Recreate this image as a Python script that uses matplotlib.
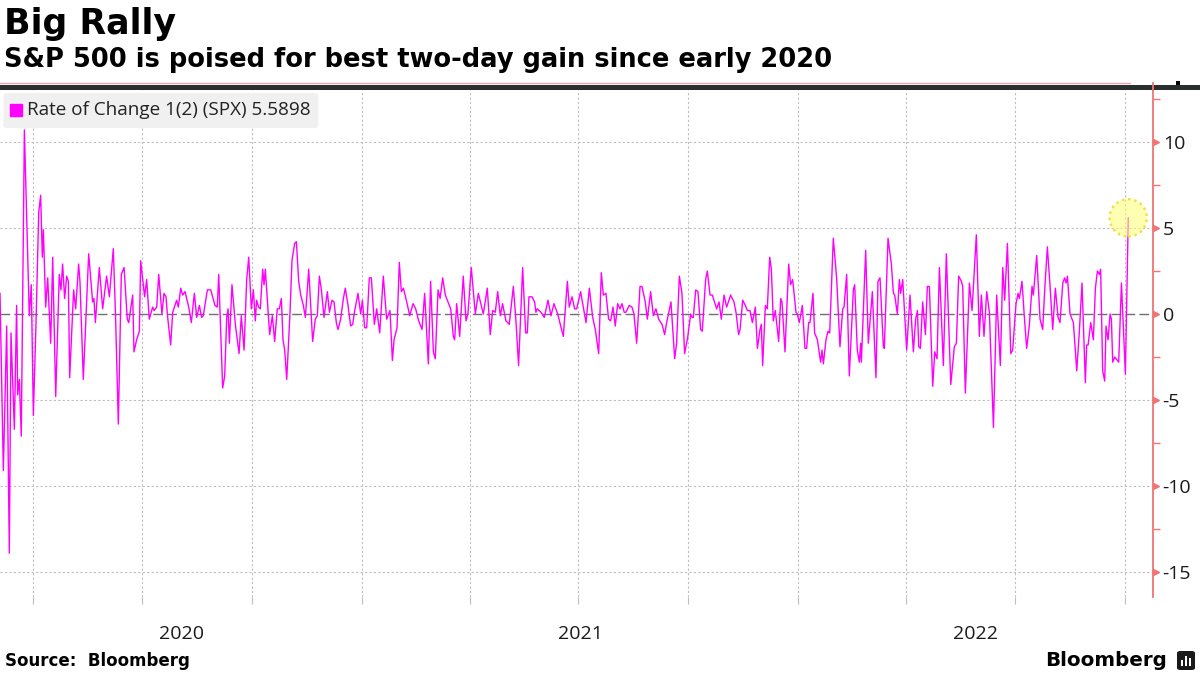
# Big Rally - S&P 500 two-day rate of change (Bloomberg style)
import numpy as np
import pandas as pd
import matplotlib
matplotlib.use("Agg")
import matplotlib.pyplot as plt
import matplotlib.transforms as mtransforms
from matplotlib.patches import Rectangle, FancyBboxPatch
from matplotlib.lines import Line2D
from matplotlib.ticker import MultipleLocator, FuncFormatter

# 1. Data: days after 2020-03-04 and 2-day rate of change (%)
start = pd.Timestamp("2020-03-04")
x_end_days = 964.7

days = [
    0.0, 2.8, 5.6, 7.8, 9.2, 12.0, 13.9, 14.8, 16.2, 17.8,
    20.4, 24.5, 26.2, 27.9, 30.1, 32.4, 34.0, 35.4, 36.3, 38.2,
    39.9, 42.4, 44.1, 46.6, 49.6, 51.0, 52.4, 54.1, 55.8, 57.2,
    58.3, 61.6, 63.3, 65.8, 66.9, 69.7, 74.2, 77.5, 78.6, 79.8,
    83.1, 85.9, 89.2, 91.5, 94.8, 96.8, 99.0, 101.5, 103.8, 106.5,
    107.7, 111.0, 112.1, 114.3, 116.6, 117.7, 121.0, 122.7, 124.9, 127.7,
    128.9, 131.1, 132.8, 135.5, 137.2, 138.9, 140.0, 142.8, 144.5, 147.8,
    149.2, 151.2, 152.8, 154.8, 157.9, 160.1, 162.6, 164.6, 166.8, 168.7,
    170.1, 173.5, 176.3, 179.9, 181.8, 183.0, 186.3, 188.0, 189.7, 190.8,
    191.9, 194.1,
    196.9, 200.0, 201.9, 204.2, 206.4, 208.1, 210.3, 212.0, 213.6, 214.7,
    216.4, 217.8, 219.8, 220.9, 222.0, 225.6, 227.9, 229.8, 232.0, 233.7,
    235.4, 236.8, 238.2, 239.9, 242.6, 244.3, 246.5, 248.0, 249.9, 251.6,
    253.8, 255.5, 258.3, 261.6, 263.8, 265.5, 267.2, 268.9, 271.1, 273.9,
    275.6, 277.8, 279.5, 281.4, 282.8, 285.0, 287.3, 288.9, 291.2, 293.4,
    295.1, 296.8, 299.5, 301.8, 303.2, 305.1, 306.8, 309.0, 310.7, 313.2,
    315.2, 317.7, 320.7, 323.5, 326.3, 328.3, 329.7, 332.2, 334.1, 335.8,
    337.5, 340.0, 342.8, 345.6, 347.8, 350.3, 353.1, 355.3, 358.4, 360.3,
    362.6, 364.2, 366.5, 368.2, 370.4, 372.6, 374.9, 377.1, 379.3, 380.4,
    382.1, 384.6,
    387.6, 389.9, 391.5, 394.3, 397.7, 400.2, 404.4, 407.7, 410.2, 412.2,
    414.4, 416.4, 418.6, 420.5, 423.3, 426.1, 429.5, 431.7, 433.9, 437.3,
    439.8, 441.2, 442.6, 445.1, 447.3, 448.4, 449.5, 452.6, 455.4, 458.5,
    461.0, 463.5, 466.6, 468.8, 471.3, 474.7, 476.3, 478.6, 480.8, 482.5,
    485.8, 490.3, 493.1, 495.9, 498.1, 500.9, 503.1, 504.8, 507.0, 509.2,
    510.9, 512.9, 514.8, 516.8, 518.7, 520.4, 522.3, 523.7, 526.5, 528.8,
    530.4, 532.7, 535.5, 537.1, 539.9, 541.6, 544.4, 546.6, 548.8, 551.1,
    553.9, 556.1, 557.8, 561.4, 564.5, 566.1, 568.4, 570.6, 572.8, 575.3,
    577.9, 579.0, 580.1, 582.1, 584.0, 586.2, 587.6, 590.4, 591.8, 594.1,
    596.0, 599.6, 601.6, 603.5, 605.8, 608.0, 611.3, 614.1, 615.8, 618.0,
    619.2, 621.4, 623.6, 625.3, 627.5, 629.5, 632.0, 633.7, 635.9, 637.0,
    638.1, 640.4, 642.0, 644.0, 645.4, 647.0, 648.7, 651.5, 653.2, 654.3,
    656.8, 659.9, 661.5, 663.2, 666.0, 667.1, 668.8, 671.3, 673.5, 674.9,
    676.6, 677.7, 680.2, 681.6, 683.9, 686.6, 687.8, 688.9, 691.1, 692.8,
    694.2, 697.2, 700.0, 702.8, 705.1, 706.2, 708.4, 710.6, 714.0, 715.1,
    717.3, 719.0, 720.1, 720.7, 724.3, 726.5, 729.9, 732.9, 734.6, 736.3,
    739.1, 739.9, 743.0, 745.8, 747.5, 748.6, 750.8, 752.5, 753.6, 755.3,
    758.6, 761.4, 764.2, 766.1,
    767.6, 768.7, 770.1, 772.0, 774.3, 775.9, 777.6, 780.4, 782.1, 784.0,
    786.0, 789.3, 791.8, 795.5, 798.5, 800.2, 802.1, 804.4, 805.5, 807.7,
    811.1, 813.3, 816.9, 819.4, 821.1, 823.3, 825.6, 827.8, 831.2, 833.9,
    837.0, 839.0, 840.6, 842.9, 845.7, 847.3, 850.1, 851.8, 852.9, 855.1,
    856.8, 859.0, 861.3, 863.5, 864.6, 867.4, 870.2, 872.4, 874.1, 876.3,
    878.6, 880.8, 883.0, 885.3, 886.9, 889.2, 890.8, 892.0, 893.1, 895.3,
    898.1, 900.9, 903.1, 905.3, 908.1, 909.2, 910.4, 912.6, 914.8, 916.5,
    918.2, 919.8, 920.9, 922.6, 924.3, 925.4, 927.1, 928.8, 929.9, 931.0,
    932.7, 936.0, 938.3, 941.6, 944.0,
]

roc = [
    1.2, -9.1, -0.7, -13.9, -1.1, -6.7, 0.5, -4.7, -3.8, -7.1,
    10.7, -0.1, 1.7, -5.9, -0.6, 5.9, 6.9, 3.3, 4.9, 0.4,
    2.1, -1.7, 3.3, -4.8, 2.3, 1.4, 2.9, 0.9, 2.2, 1.9,
    -3.7, 1.4, 0.3, 2.9, 1.9, -3.8, 3.5, 0.7, 0.9, -0.5,
    2.7, 0.3, 2.2, 1.0, 3.8, -0.4, -6.4, 2.3, 2.7, -0.3,
    -0.5, 1.1, -2.2, -1.5, -1.0, 3.1, 1.0, 2.0, -0.3, 0.4,
    0.2, 0.4, 2.3, 0.0, 1.2, 1.0, 0.0, -1.8, 0.1, 0.8,
    0.4, 1.5, 1.1, 1.3, 0.4, -0.5, 1.2, -0.2, 0.5, -0.2,
    -0.1, 1.4, 1.4, 0.5, 0.4, 2.3, -4.3, -3.6, -0.2, 0.3,
    -1.7, 1.7,
    -0.6, -2.3, -0.1, -2.1, 2.0, 3.3, 0.3, 1.4, -0.4, 0.8,
    0.4, 0.3, 2.6, 1.7, 2.6, -1.2, -0.1, -1.6, 0.3, 0.3,
    0.9, -1.5, -2.1, -3.8, 0.0, 3.1, 4.1, 4.2, 1.9, 1.1,
    0.5, -0.2, 2.6, -1.6, -0.3, -0.1, 2.2, 1.4, -0.2, 1.3,
    0.1, 0.8, 0.7, -0.5, -0.9, -0.3, 0.9, 1.5, 0.5, -0.7,
    -0.6, 0.2, 1.2, 0.0, 0.8, -0.8, -0.8, 2.1, 2.1, -0.6,
    0.3, -1.1, 2.2, -0.3, 0.2, -2.7, -1.5, -0.8, 3.0, 1.3,
    1.5, 0.8, -0.1, 0.6, 0.3, -0.4, -0.9, 1.2, -2.9, 1.9,
    -2.2, -2.6, 1.4, 0.9, 2.1, 1.1, 0.7, 0.3, -1.3, -1.5,
    0.6, -1.3,
    2.2, -0.4, 0.0, 2.7, 0.0, 1.2, 0.0, 1.5, -1.2, 0.2,
    0.1, 1.3, -0.1, 0.6, -0.4, -0.6, 1.6, -0.4, -3.0, 2.7,
    -1.1, -1.1, 1.0, 1.0, 0.7, 0.1, 0.3, 0.1, -0.2, 0.8,
    -0.1, 0.6, 0.0, -0.6, -1.3, 1.9, 0.4, 1.0, 0.3, 0.3,
    1.3, -0.5, 1.5, -0.2, -0.9, -2.3, 2.4, 1.1, 1.2, -0.3,
    -0.4, 0.4, -0.7, 0.6, 0.3, 0.6, 0.1, 0.1, 0.5, 0.4,
    0.0, -1.7, 1.6, 1.6, 0.7, -0.3, 1.3, -0.1, 0.3, -0.3,
    -0.6, -1.2, -0.5, 0.7, -2.6, -1.7, 2.2, 1.2, -2.3, -1.4,
    0.0, -0.2, -0.2, 1.4, 1.3, -0.9, -1.0, 2.0, 2.5, 1.1,
    1.1, 0.3, 0.7, -0.3, 1.1, 0.4, 1.1, 0.7, 0.1, -1.2,
    -0.9, 0.8, 0.5, 0.2, 0.2, -0.5, 0.4, -2.0, -0.9, -0.6,
    -3.0, 0.5, 0.3, 3.3, 2.6, -0.4, 0.2, -1.6, 0.9, 0.7,
    -2.2, 2.9, 1.7, 2.0, 0.1, 0.0, -0.5, 0.5, -2.0, -2.0,
    -0.5, -0.5, 1.2, -1.1, -1.5, -2.8, -2.1, -2.9, -1.5, -1.0,
    -1.1, 4.4, 2.1, -1.9, 0.3, 0.4, 2.3, -3.6, 1.4, 1.7,
    -2.1, -2.8, -1.7, -2.8, 3.7, -1.7, 1.3, -3.7, 1.9, 2.1,
    -1.9, -2.0, 4.4, 2.9, 1.2, 1.1, 0.0, 2.0, 1.2, 2.0,
    -2.1, 1.1, -2.2, -0.3,
    0.2, -1.9, -2.0, 0.7, -1.2, 1.6, 1.6, -4.2, -2.2, -2.6,
    2.7, -3.0, 3.5, -4.1, -1.9, -1.7, 2.2, 1.9, 1.6, -4.6,
    1.8, 0.2, 4.6, -1.3, 1.1, -1.3, 1.3, 0.1, -6.6, 1.1,
    -3.0, 2.7, 0.8, 4.1, -2.3, -2.1, 0.6, 1.2, 0.9, 1.9,
    0.1, -2.0, -0.6, 1.6, 1.1, 3.4, -0.3, -0.9, 1.4, 3.9,
    1.6, -0.9, 1.5, -0.2, -0.5, 1.8, 2.1, 1.8, 2.2, 0.0,
    -0.5, -3.3, -1.0, 1.8, -4.0, -1.8, -1.8, -0.5, -1.5, 1.5,
    2.5, 2.3, 2.6, -3.3, -3.9, -0.7, -1.5, 0.0, -0.3, -2.8,
    -2.5, -2.8, 1.8, -3.5, 5.5898,
]
assert len(days) == len(roc)

y_ticks = [-15, -10, -5, 0, 5, 10]
years = [2020, 2021, 2022]
legend_label = "Rate of Change 1(2) (SPX) 5.5898"

dates = start + pd.to_timedelta(days, unit="D")
x_end = start + pd.Timedelta(days=x_end_days)
quarters = pd.date_range("2020-04-01", "2022-10-01", freq="QS")

# 2. Colors / fonts
magenta = "#FF00FF"
axis_red = "#F07474"
grid_col = "#BDBDBD"
plt.rcParams["font.family"] = ["Open Sans", "DejaVu Sans"]

fig = plt.figure(figsize=(12, 6.75), dpi=100)
ax = fig.add_axes([0.0, 0.11556, 0.96083, 0.75111])

# 3. Line + last point highlight
ax.plot(dates, roc, color=magenta, lw=1.0, zorder=3)
ax.scatter([dates[-1]], [roc[-1]], s=720, facecolors=(1, 1, 0.45, 0.55),
           edgecolors="#EDE24A", linewidths=1.8, linestyle=(0, (1, 1.5)), zorder=4)

ax.set_xlim(start, x_end)
ax.set_ylim(-16.45, 13.02)

# 4. Grid
ax.set_xticks(quarters)
ax.set_xticklabels([])
ax.tick_params(axis="x", length=5, color=grid_col, width=0.8)
ax.grid(axis="x", color=grid_col, lw=0.8, linestyle=(0, (2, 2)))
for v in y_ticks:
    if v != 0:
        ax.axhline(v, color=grid_col, lw=0.8, linestyle=(0, (2, 2)), zorder=1)
ax.axhline(0, color="#707070", lw=1.0, linestyle=(0, (7, 3)), zorder=2)

# 5. Right axis
for s in ["left", "top", "bottom"]:
    ax.spines[s].set_visible(False)
ax.spines["right"].set_color(axis_red)
ax.spines["right"].set_linewidth(1.3)
ax.yaxis.tick_right()
ax.yaxis.set_major_locator(MultipleLocator(5))
ax.yaxis.set_minor_locator(MultipleLocator(2.5))
ax.yaxis.set_major_formatter(FuncFormatter(lambda v, p: f"{v:g}"))
ax.tick_params(axis="y", which="major", length=0, pad=7, labelsize=14, labelcolor="#1A1A1A")
ax.tick_params(axis="y", which="minor", length=5, width=1, color=axis_red)

tri_trans = mtransforms.offset_copy(ax.get_yaxis_transform(), fig=fig, x=3, y=0, units="dots")
ax.plot(np.ones(len(y_ticks)), y_ticks, ls="none", marker=">", ms=5,
        color=axis_red, transform=tri_trans, clip_on=False, zorder=5)

# 6. Year labels centred on visible part of each year
for yr in years:
    a = max(pd.Timestamp(f"{yr}-01-01"), start)
    b = min(pd.Timestamp(f"{yr + 1}-01-01"), x_end)
    mid = a + (b - a) / 2
    ax.text(mid, -0.073, str(yr), transform=ax.get_xaxis_transform(),
            ha="center", va="center", fontsize=14, color="#1A1A1A")

# 7. Legend box
ax.add_patch(FancyBboxPatch((0.003, 0.925), 0.273, 0.069, transform=ax.transAxes,
                            boxstyle="round,pad=0,rounding_size=0.004",
                            facecolor="#F0F0F0", edgecolor="none", zorder=6))
ax.plot([0.0139], [0.9606], marker="s", ms=8, color=magenta, transform=ax.transAxes,
        ls="none", zorder=7)
ax.text(0.0234, 0.9606, legend_label, transform=ax.transAxes, va="center",
        fontsize=13.6, color="#222222", zorder=7)

# 8. Header / footer
fig.text(4 / 1200, 1 - 24 / 675, "Big Rally", fontsize=25, fontweight="bold",
         family="DejaVu Sans", va="center")
fig.text(4 / 1200, 1 - 60 / 675, "S&P 500 is poised for best two-day gain since early 2020",
         fontsize=18.5, fontweight="bold", family="DejaVu Sans", va="center")
fig.add_artist(Line2D([0, 1130 / 1200], [1 - 82.5 / 675] * 2, color="#E6A3B3", lw=1))
fig.add_artist(Rectangle((0, 1 - 90 / 675), 1, 5.5 / 675, facecolor="#2B2E2E",
                         edgecolor="none", transform=fig.transFigure))
fig.add_artist(Line2D([1153 / 1200] * 2, [1 - 90 / 675, 1 - 83 / 675], color=axis_red, lw=1.3))
fig.add_artist(Rectangle((1176 / 1200, 1 - 85 / 675), 4 / 1200, 4 / 675, facecolor="black",
                         edgecolor="none", transform=fig.transFigure))

fig.text(5 / 1200, 1 - 661 / 675, "Source:  Bloomberg", fontsize=12, fontweight="bold",
         family="DejaVu Sans", va="center")
fig.text(1167 / 1200, 1 - 660 / 675, "Bloomberg", fontsize=14.3, fontweight="bold",
         family="DejaVu Sans", ha="right", va="center")
fig.add_artist(FancyBboxPatch((1177 / 1200, 1 - 670 / 675), 18 / 1200, 19 / 675,
                              boxstyle="round,pad=0,rounding_size=0.003",
                              facecolor="#1A1A1A", edgecolor="none", transform=fig.transFigure))
for i, h in enumerate([6, 10, 8]):
    fig.add_artist(Rectangle(((1181 + i * 4) / 1200, 1 - 666 / 675), 2 / 1200, h / 675,
                             facecolor="white", edgecolor="none", transform=fig.transFigure))

fig.savefig("out.png", dpi=100)
